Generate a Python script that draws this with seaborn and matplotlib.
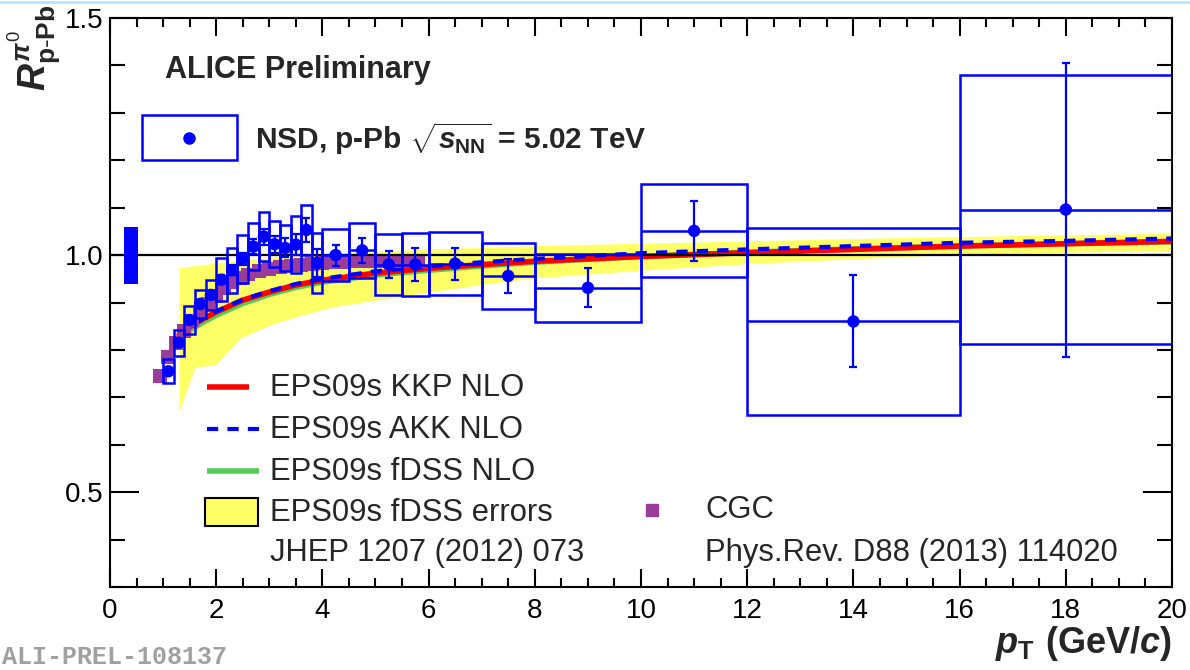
import numpy as np
import pandas as pd
import matplotlib
matplotlib.use("Agg")
import matplotlib.pyplot as plt
import seaborn as sns
from matplotlib.patches import Rectangle
from matplotlib.lines import Line2D
from matplotlib.ticker import MultipleLocator, FixedLocator

# ---------------- data ----------------
pt_edges = [1.0, 1.2, 1.4, 1.6, 1.8, 2.0, 2.2, 2.4, 2.6, 2.8, 3.0, 3.2, 3.4, 3.6,
            3.8, 4.0, 4.5, 5.0, 5.5, 6.0, 7.0, 8.0, 10.0, 12.0, 16.0, 20.0]
r_ppb = [0.755, 0.815, 0.863, 0.897, 0.916, 0.948, 0.968, 0.992, 1.018, 1.039,
         1.023, 1.015, 1.022, 1.053, 0.983, 1.000, 1.010, 0.980, 0.980, 0.982,
         0.956, 0.931, 1.051, 0.860, 1.096]
stat_err = [0.005, 0.006, 0.007, 0.008, 0.009, 0.010, 0.011, 0.013, 0.015, 0.017,
            0.018, 0.020, 0.022, 0.026, 0.030, 0.022, 0.026, 0.029, 0.034, 0.034,
            0.035, 0.041, 0.064, 0.097, 0.310]
syst_err = [0.025, 0.027, 0.030, 0.030, 0.032, 0.045, 0.047, 0.050, 0.049, 0.052,
            0.048, 0.048, 0.060, 0.053, 0.063, 0.055, 0.058, 0.064, 0.067, 0.066,
            0.069, 0.072, 0.098, 0.197, 0.284]
norm_unc = 0.06

theory_pt = [1.3, 1.5, 1.75, 2.0, 2.5, 3.0, 3.5, 4.0, 5.0, 6.0, 7.0, 8.0,
             10.0, 12.0, 14.0, 16.0, 18.0, 20.0]
kkp_nlo = [0.832, 0.848, 0.865, 0.880, 0.905, 0.922, 0.937, 0.947, 0.962, 0.972,
           0.980, 0.987, 0.997, 1.005, 1.012, 1.019, 1.024, 1.029]
akk_nlo = [0.833, 0.849, 0.866, 0.881, 0.906, 0.924, 0.939, 0.950, 0.966, 0.976,
           0.985, 0.992, 1.004, 1.012, 1.019, 1.026, 1.030, 1.035]
fdss_nlo = [0.824, 0.841, 0.858, 0.873, 0.898, 0.917, 0.932, 0.943, 0.958, 0.968,
            0.977, 0.985, 0.997, 1.006, 1.013, 1.019, 1.024, 1.028]

band_pt = [1.3, 1.6, 1.98, 2.45, 3.0, 3.5, 4.2, 5.0, 6.0, 7.0, 8.0, 10.0,
           12.0, 14.0, 16.0, 18.0, 20.0]
fdss_lo = [0.670, 0.764, 0.768, 0.825, 0.852, 0.870, 0.891, 0.905, 0.922, 0.938,
           0.952, 0.968, 0.982, 0.992, 1.002, 1.006, 1.010]
fdss_hi = [0.973, 0.978, 0.983, 0.989, 0.995, 1.000, 1.004, 1.008, 1.013, 1.016,
           1.020, 1.025, 1.030, 1.035, 1.039, 1.043, 1.046]

cgc_pt = [0.95, 1.1, 1.25, 1.4, 1.55, 1.7, 1.85, 2.0, 2.15, 2.3, 2.45, 2.6, 2.8,
          3.0, 3.2, 3.4, 3.6, 3.8, 4.0, 4.2, 4.4, 4.6, 4.8, 5.0, 5.2, 5.4, 5.6, 5.8]
cgc_r = [0.745, 0.785, 0.815, 0.840, 0.862, 0.880, 0.897, 0.914, 0.930, 0.943,
         0.952, 0.959, 0.966, 0.971, 0.975, 0.978, 0.980, 0.982, 0.984, 0.985,
         0.986, 0.987, 0.988, 0.988, 0.988, 0.988, 0.988, 0.987]

# ---------------- style ----------------
sns.set_theme(style="ticks")
plt.rcParams['font.family'] = ['Liberation Sans', 'DejaVu Sans']
plt.rcParams['mathtext.fontset'] = 'custom'
plt.rcParams['mathtext.rm'] = 'Liberation Sans'
plt.rcParams['mathtext.it'] = 'Liberation Sans:italic:bold'
plt.rcParams['mathtext.bf'] = 'Liberation Sans:bold'
plt.rcParams['axes.linewidth'] = 1.5

BLUE = '#0000ff'
RED = '#ff0000'
GREEN = '#55cc55'
YELLOW = '#ffff66'
PURPLE = '#9a3d9a'

fig = plt.figure(figsize=(11.9, 6.7), dpi=100)
ax = fig.add_axes([0.0924, 0.1239, 0.8925, 0.8492])
ax.set_facecolor('white')

edges = np.array(pt_edges)
pt = 0.5 * (edges[:-1] + edges[1:])
half = 0.5 * (edges[1:] - edges[:-1])
r = np.array(r_ppb)

# theory band and curves
ax.fill_between(band_pt, fdss_lo, fdss_hi, color=YELLOW, lw=0, zorder=1)
sns.lineplot(x=theory_pt, y=fdss_nlo, color=GREEN, lw=4, ax=ax, zorder=2)
sns.lineplot(x=theory_pt, y=kkp_nlo, color=RED, lw=4, ax=ax, zorder=3)
sns.lineplot(x=theory_pt, y=akk_nlo, color=BLUE, lw=3, ax=ax, zorder=4,
             linestyle=(0, (2.7, 2.2)))

# CGC
sns.scatterplot(x=cgc_pt, y=cgc_r, color=PURPLE, marker='s', s=100,
                edgecolor='none', ax=ax, zorder=4.5)

# reference line at unity
ax.axhline(1.0, color='black', lw=1.6, zorder=4.8)

# normalisation uncertainty
ax.add_patch(Rectangle((0.27, 1.0 - norm_unc), 0.25, 2 * norm_unc,
                       facecolor=BLUE, edgecolor='none', zorder=5))

# systematic boxes
for lo, hi, y, s in zip(edges[:-1], edges[1:], r, syst_err):
    ax.add_patch(Rectangle((lo, y - s), hi - lo, 2 * s, fill=False,
                           edgecolor=BLUE, lw=1.8, zorder=5))

# statistical errors and data points
ax.errorbar(pt, r, xerr=half, fmt='none', ecolor=BLUE, elinewidth=1.8,
            capsize=0, zorder=6)
ax.errorbar(pt, r, yerr=stat_err, fmt='none', ecolor=BLUE, elinewidth=1.6,
            capsize=3, capthick=1.6, zorder=6)
sns.scatterplot(x=pt, y=r, color=BLUE, marker='o', s=80, edgecolor='none',
                ax=ax, zorder=7)

# ---------------- axes ----------------
ax.set_xlim(0, 20)
ax.set_ylim(0.3, 1.5)
ax.xaxis.set_major_locator(MultipleLocator(2))
ax.xaxis.set_minor_locator(MultipleLocator(0.5))
ax.yaxis.set_major_locator(FixedLocator([0.5, 1.0, 1.5]))
ax.yaxis.set_minor_locator(MultipleLocator(0.1))
ax.set_yticklabels(['0.5', '1.0', '1.5'])
ax.tick_params(which='both', direction='in', top=True, right=True,
               width=1.5, color='black', labelsize=20, labelcolor='black')
ax.tick_params(axis='x', which='major', length=13, pad=8)
ax.tick_params(axis='x', which='minor', length=6.5)
ax.tick_params(axis='y', which='major', length=21, pad=5)
ax.tick_params(axis='y', which='minor', length=11)
for sp in ax.spines.values():
    sp.set_visible(True)
    sp.set_color('black')
    sp.set_linewidth(1.5)
ax.set_xlabel('')
ax.set_ylabel('')

# axis titles
fig.text(0.029, 0.993, r'$R^{\pi^{0}}_{\mathbf{p\text{-}Pb}}$', rotation=90,
         ha='center', va='top', fontsize=27)
fig.text(0.9849, 0.026, r'$p_{\mathbf{T}}\ \mathbf{(GeV/}c\mathbf{)}$',
         ha='right', va='baseline', fontsize=26)

# ---------------- legends / labels ----------------
T = ax.transAxes
ax.text(0.0518, 0.9086, 'ALICE Preliminary', transform=T, fontsize=22,
        fontweight='bold', ha='left', va='center')
ax.add_patch(Rectangle((0.030, 0.750), 0.090, 0.079, transform=T, fill=False,
                       edgecolor=BLUE, lw=1.8, zorder=10))
ax.add_line(Line2D([0.0744], [0.789], transform=T, marker='o', markersize=8,
                   color=BLUE, lw=0, zorder=10))
ax.text(0.1365, 0.789, r'NSD, p-Pb $\sqrt{s_{\mathbf{NN}}}$ = 5.02 TeV',
        transform=T, fontsize=21.5, fontweight='bold', ha='left', va='center')

fs = 22.3
ax.add_line(Line2D([0.0913, 0.1309], [0.3515, 0.3515], transform=T, color=RED,
                   lw=4, zorder=10, solid_capstyle='butt'))
ax.add_line(Line2D([0.0913, 0.1403], [0.277, 0.277], transform=T, color=BLUE,
                   lw=3, linestyle=(0, (2.7, 2.2)), zorder=10))
ax.add_line(Line2D([0.0913, 0.1403], [0.2039, 0.2039], transform=T,
                   color=GREEN, lw=4, zorder=10, solid_capstyle='butt'))
ax.add_patch(Rectangle((0.0895, 0.1070), 0.0499, 0.0499, transform=T,
                       facecolor=YELLOW, edgecolor='black', lw=1.5, zorder=10))
ax.text(0.1507, 0.350, 'EPS09s KKP NLO', transform=T, fontsize=fs,
        ha='left', va='center')
ax.text(0.1507, 0.276, 'EPS09s AKK NLO', transform=T, fontsize=fs,
        ha='left', va='center')
ax.text(0.1507, 0.2027, 'EPS09s fDSS NLO', transform=T, fontsize=fs,
        ha='left', va='center')
ax.text(0.1507, 0.1295, 'EPS09s fDSS errors', transform=T, fontsize=fs,
        ha='left', va='center')
ax.text(0.1507, 0.0603, 'JHEP 1207 (2012) 073', transform=T, fontsize=fs,
        ha='left', va='center')
ax.add_line(Line2D([0.5104], [0.1353], transform=T, marker='s', markersize=8,
                   color=PURPLE, lw=0, zorder=10))
ax.text(0.5603, 0.1353, 'CGC', transform=T, fontsize=fs, ha='left',
        va='center')
ax.text(0.5603, 0.0603, 'Phys.Rev. D88 (2013) 114020', transform=T,
        fontsize=fs, ha='left', va='center')

# watermark and slide border
fig.text(0.002, 0.002, 'ALI-PREL-108137', family=['Liberation Mono', 'DejaVu Sans Mono'],
         fontweight='bold', color='#a0a0a0', fontsize=18, ha='left',
         va='bottom')
fig.add_artist(Line2D([0, 1], [0.997, 0.997], transform=fig.transFigure,
                      color='#b3e5fc', lw=2))

fig.savefig('out.png', dpi=100)
